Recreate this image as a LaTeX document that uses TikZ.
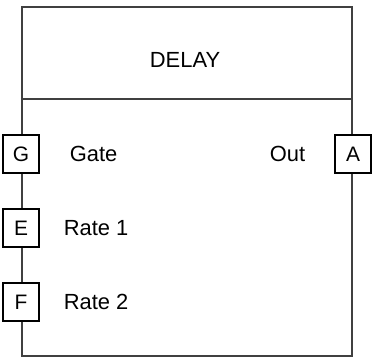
\documentclass[tikz,border=0pt]{standalone}
\usepackage{fontspec}
\setmainfont{Liberation Sans}
\usetikzlibrary{positioning}
\tikzset{
    block/.style={rectangle, draw=black!75, line width=2bp, minimum width=330bp, minimum height=349bp, inner sep=0pt},
    divider/.style={draw=black!75, line width=2bp},
    port/.style={rectangle, draw=black, line width=1.2bp, fill=white, minimum width=36bp, minimum height=38bp, inner sep=0pt, font=\fontsize{21}{25}\selectfont},
    pintext/.style={inner sep=0pt, font=\fontsize{22}{26}\selectfont},
    title/.style={inner sep=0pt, font=\fontsize{22}{26}\selectfont},
}

\begin{document}
\begin{tikzpicture}[x=1bp, y=-1bp]
    \useasboundingbox (0,0) rectangle (372,360);
    % main block and header
    \node[block] (block) at (187,181.5) {};
    \coordinate (split) at (0,98.5);
    \draw[divider] (block.west |- split) -- (block.east |- split);
    \node[title] (delay) at (185,60) {DELAY};
    % ports on the left and right edges
    \node[port] (g) at (block.west |- 0,154) {G};
    \node[port] (e) at (block.west |- 0,228) {E};
    \node[port] (f) at (block.west |- 0,302) {F};
    \node[port] (a) at (block.east |- 0,154) {A};
    % port names
    \node[pintext, right=30bp of g] (gate) {Gate};
    \node[pintext, right=24bp of e] (rate1) {Rate 1};
    \node[pintext, right=24bp of f] (rate2) {Rate 2};
    \node[pintext, left=29bp of a] (out) {Out};
\end{tikzpicture}
\end{document}
